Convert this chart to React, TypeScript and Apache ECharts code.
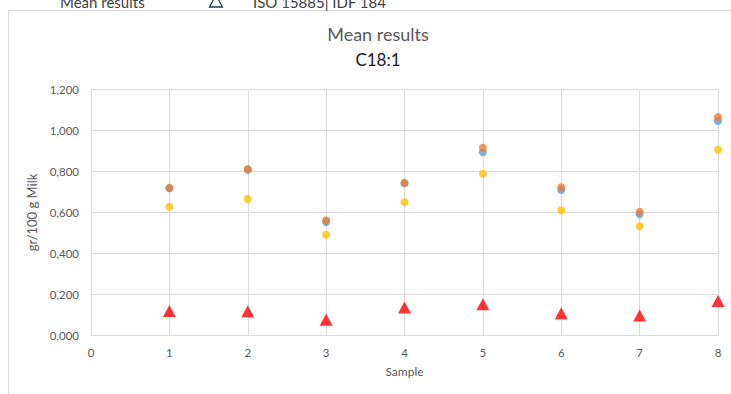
import React, { useEffect, useRef } from "react";
import * as echarts from "echarts";

const samples = [1, 2, 3, 4, 5, 6, 7, 8];
const seriesBlue = [0.718, 0.808, 0.554, 0.742, 0.894, 0.710, 0.591, 1.046];
const seriesOrange = [0.720, 0.812, 0.562, 0.745, 0.916, 0.723, 0.604, 1.066];
const seriesYellow = [0.628, 0.666, 0.492, 0.650, 0.789, 0.611, 0.533, 0.906];
const seriesIso = [0.119, 0.118, 0.077, 0.137, 0.152, 0.109, 0.097, 0.168];
const yTicks = [0, 0.2, 0.4, 0.6, 0.8, 1.0, 1.2];
const xTicks = [0, 1, 2, 3, 4, 5, 6, 7, 8];

const FONT = "Lato, 'Open Sans', sans-serif";

function pairs(vals: number[]) {
  return samples.map((s, i) => [s, vals[i]]);
}

export default function App() {
  const ref = useRef<HTMLDivElement>(null);
  useEffect(() => {
    document.body.style.margin = "0";
    if (!ref.current) return;
    const chart = echarts.init(ref.current, null, { renderer: "svg" });
    chart.setOption({
      animation: false,
      backgroundColor: "#ffffff",
      textStyle: { fontFamily: FONT },
      title: [
        {
          text: "Mean results",
          left: 373,
          textAlign: "center",
          top: 20,
          textStyle: { color: "#595959", fontSize: 18, fontWeight: "normal", fontFamily: FONT },
        },
        {
          text: "C18:1",
          left: 373,
          textAlign: "center",
          top: 46,
          textStyle: { color: "#1a1a1a", fontSize: 17, fontWeight: "normal", fontFamily: FONT },
        },
      ],
      graphic: [
        {
          type: "rect",
          shape: { x: 8.5, y: 10.5, width: 760, height: 420 },
          style: { fill: "none", stroke: "#d9d9d9", lineWidth: 1 },
          silent: true,
        },
        {
          type: "text",
          x: 60,
          y: 2,
          style: { text: "Mean results", fill: "#404040", font: `15px ${FONT}`, textVerticalAlign: "middle" },
        },
        {
          type: "polygon",
          shape: { points: [[216, -5], [209.5, 7], [222.5, 7]] },
          style: { fill: "none", stroke: "#203864", lineWidth: 1.3 },
        },
        {
          type: "text",
          x: 253,
          y: 2,
          style: { text: "ISO 15885| IDF 184", fill: "#404040", font: `15px ${FONT}`, textVerticalAlign: "middle" },
        },
      ],
      grid: { left: 91, right: 13, top: 89.5, bottom: 58.5, containLabel: false },
      xAxis: {
        type: "value",
        min: xTicks[0],
        max: xTicks[xTicks.length - 1],
        interval: 1,
        name: "Sample",
        nameLocation: "middle",
        nameGap: 30,
        nameTextStyle: { color: "#595959", fontSize: 12, fontFamily: FONT },
        axisLine: { show: true, lineStyle: { color: "#d9d9d9", width: 1 } },
        axisTick: { show: false },
        axisLabel: { color: "#595959", fontSize: 11.5, margin: 11, fontFamily: FONT },
        splitLine: { show: true, lineStyle: { color: "#d9d9d9", width: 1 } },
      },
      yAxis: {
        type: "value",
        min: yTicks[0],
        max: yTicks[yTicks.length - 1],
        interval: 0.2,
        name: "gr/100 g Milk",
        nameLocation: "middle",
        nameGap: 44,
        nameRotate: 90,
        nameTextStyle: { color: "#595959", fontSize: 13, fontFamily: FONT },
        axisLine: { show: true, lineStyle: { color: "#d9d9d9", width: 1 } },
        axisTick: { show: false },
        axisLabel: {
          color: "#595959",
          fontSize: 11.5,
          margin: 12,
          fontFamily: FONT,
          formatter: (v: number) => v.toFixed(3).replace(".", ","),
        },
        splitLine: { show: true, lineStyle: { color: "#d9d9d9", width: 1 } },
      },
      series: [
        {
          name: "Lab 1",
          type: "scatter",
          data: pairs(seriesBlue),
          symbol: "circle",
          symbolSize: 8,
          itemStyle: { color: "#5B9BD5" },
        },
        {
          name: "Lab 2",
          type: "scatter",
          data: pairs(seriesOrange),
          symbol: "circle",
          symbolSize: 8,
          itemStyle: { color: "#ED7D31" },
        },
        {
          name: "Mean results",
          type: "scatter",
          data: pairs(seriesYellow),
          symbol: "circle",
          symbolSize: 8,
          itemStyle: { color: "#FFC000" },
        },
        {
          name: "ISO 15885| IDF 184",
          type: "scatter",
          data: pairs(seriesIso),
          symbol: "triangle",
          symbolSize: [13, 12],
          itemStyle: { color: "#FF0000" },
        },
      ],
    });
    return () => chart.dispose();
  }, []);
  return <div ref={ref} style={{ width: 731, height: 394 }} />;
}
